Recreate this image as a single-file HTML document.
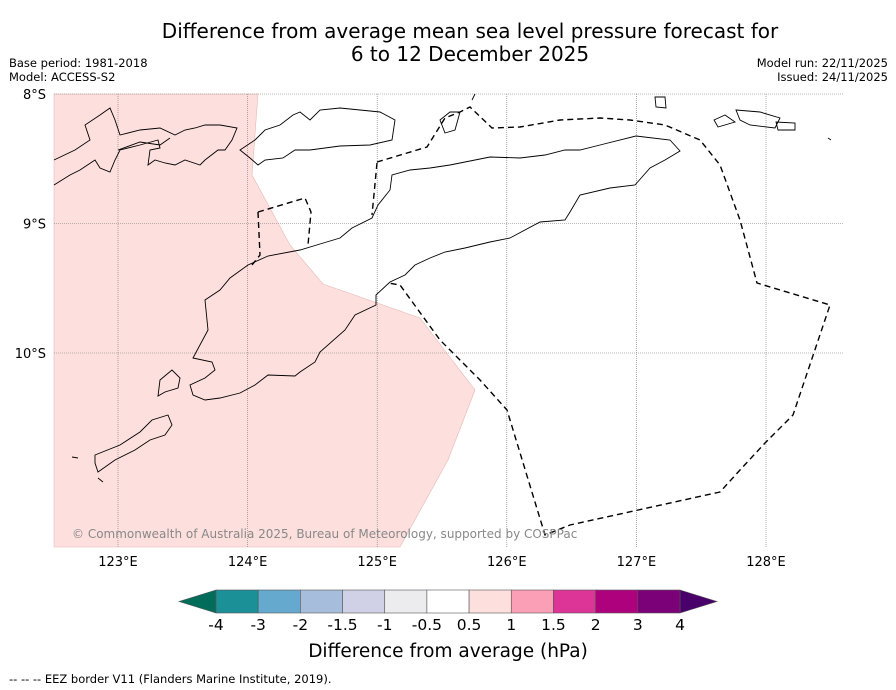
<!DOCTYPE html>
<html><head><meta charset="utf-8">
<style>
body{margin:0;background:#fff;font-family:"Liberation Sans","DejaVu Sans",sans-serif;}
#wrap{position:relative;width:896px;height:690px;overflow:hidden;}
.t{position:absolute;white-space:nowrap;color:#000;}
</style></head><body>
<div id="wrap">
<div class="t" style="left:0;width:940px;top:20px;text-align:center;font-size:20px;line-height:23px;font-family:'DejaVu Sans',sans-serif;">Difference from average mean sea level pressure forecast for<br>6 to 12 December 2025</div>
<div class="t" style="left:9px;top:56px;font-size:11.5px;line-height:14px;font-family:'DejaVu Sans',sans-serif;">Base period: 1981-2018<br>Model: ACCESS-S2</div>
<div class="t" style="right:8px;top:56px;font-size:11.5px;line-height:14px;text-align:right;font-family:'DejaVu Sans',sans-serif;">Model run: 22/11/2025<br>Issued: 24/11/2025</div>
<svg id="svg" width="896" height="690" style="position:absolute;left:0;top:0" font-family="DejaVu Sans, sans-serif">
<g>
<polygon points="54,94 258,94 252,175 290,245 323,284 420,318 475,390 448,460 400,547 54,547" fill="#fde0de" stroke="#e8b8b4" stroke-width="0.6"/>
<g id="grid" stroke="#777" stroke-width="0.6" stroke-dasharray="1,1"></g>
<g fill="none" stroke="#000" stroke-width="0.9">
<path d="M193,358 L208,330 L205,300 L220,290 L230,278 L248,265 L268,256 L300,250 L320,244 L340,238 L352,228 L372,218 L378,205 L390,190 L392,175 L410,170 L430,168 L450,165 L490,157 L520,158 L545,155 L565,150 L580,150 L600,145 L636,136 L670,140 L680,151 L665,160 L650,168 L635,185 L610,188 L580,195 L570,212 L565,220 L540,222 L510,238 L490,242 L465,248 L445,252 L430,258 L415,265 L405,275 L390,282 L376,295 L376,305 L355,315 L345,330 L320,352 L315,362 L300,372 L295,376 L268,375 L255,385 L240,393 L220,398 L205,400 L193,395 L190,385 L205,378 L215,370 L212,362 Z"/>
<path d="M160,380 L172,370 L180,378 L178,388 L165,392 L158,396 Z"/>
<path d="M72,457 L78,458 M95,455 L120,445 L140,432 L152,420 L168,415 L172,425 L165,435 L150,440 L135,450 L115,460 L98,472 L95,463 Z M98,478 L103,482"/>
<path d="M54,160 L75,150 L90,140 L85,125 L100,115 L110,108 L115,120 L120,135 L140,130 L160,128 L175,135 L185,130 L195,128 L205,125 L220,125 L237,128 L232,140 L225,150 L218,150 L205,160 L200,165 L185,160 L175,165 L165,163 L155,160 L148,165 L150,150 L160,148 L158,140 L140,145 L120,150 L115,160 L110,172 L100,168 L95,160 L80,170 L70,175 L54,185"/>
<path d="M118,150 L140,142 L160,145 L170,138"/>
<path d="M240,150 L255,140 L265,130 L280,125 L293,115 L300,112 L310,120 L320,110 L340,108 L380,112 L395,120 L392,140 L370,145 L340,146 L310,150 L295,150 L283,158 L265,160 L258,165 L250,158 Z"/>
<path d="M440,120 L450,112 L460,112 L455,130 L445,133 Z M472,100 L475,94 M655,97 L665,97 L666,108 L656,107 Z M714,120 L725,115 L735,122 L718,127 Z M736,110 L760,112 L780,118 L775,128 L750,125 L740,120 Z M776,122 L795,123 L795,130 L778,130 Z M828,138 L831,140"/>
</g>
<g fill="none" stroke="#000" stroke-width="1.4" stroke-dasharray="6,4">
<path d="M258,212 L305,198 L311,212 L308,245"/>
<path d="M258,212 L260,255 L252,265"/>
<path d="M377,163 L372,215"/>
<path d="M377,162 L427,147 L445,118 L460,112 L470,107 L492,128 L520,127 L560,120 L600,118 L630,120 L665,125 L700,140 L720,165 L740,220 L757,283 L830,305 L793,415 L765,443 L740,470 L720,492 L570,525 L545,535 L507,410 L480,380 L440,340 L400,285 L388,283"/>
</g>
<text x="72" y="538" font-size="12" fill="#888">© Commonwealth of Australia 2025, Bureau of Meteorology, supported by COSPPac</text>
<g id="axes" font-size="13"></g>
</g>
<g id="cbar"></g>
<text x="448" y="657" text-anchor="middle" font-size="18.5">Difference from average (hPa)</text>
<text x="9" y="683" font-size="11.5">--  --  -- EEZ border V11 (Flanders Marine Institute, 2019).</text>
</svg>
</div>
<script>
const lonTicks=[123,124,125,126,127,128];
const latTicks=[8,9,10];
const levelLabels=["-4","-3","-2","-1.5","-1","-0.5","0.5","1","1.5","2","3","4"];
const levelColors=["#1b9096","#66a9cf","#a6bddb","#d0d1e6","#ecebee","#ffffff","#fde0dd","#fa9fb5","#dd3497","#ae017e","#7a0177"];
const extendColors=["#016c59","#49006a"];
const NS="http://www.w3.org/2000/svg";
function mk(t,a,p){const e=document.createElementNS(NS,t);for(const k in a)e.setAttribute(k,a[k]);p.appendChild(e);return e;}
const xLon=l=>118+(l-123)*129.6;
const yLat=l=>94+(l-8)*129.5;
const grid=document.getElementById('grid'),axes=document.getElementById('axes');
lonTicks.forEach(l=>{
  const x=xLon(l);
  const g=mk('line',{x1:x,x2:x,y1:94,y2:547},grid);
  
  
  const t=mk('text',{x:x,y:566,'text-anchor':'middle'},axes);t.textContent=l+"°E";
  
  
});
latTicks.forEach(l=>{
  const y=yLat(l);
  const g=mk('line',{x1:54,x2:843,y1:y,y2:y},grid);
  
  
  const t=mk('text',{x:46,y:y+5,'text-anchor':'end'},axes);t.textContent=l+"°S";
  
  
});
const cb=document.getElementById('cbar');
const x0=216,x1=680,y0=590,y1=613,n=levelColors.length,w=(x1-x0)/n;
const a=mk('polygon',{points:`${x0},${y0} ${x0},${y1} 179,${(y0+y1)/2}`,fill:extendColors[0],stroke:'#555','stroke-width':0.6},cb);


const b=mk('polygon',{points:`${x1},${y0} ${x1},${y1} 717,${(y0+y1)/2}`,fill:extendColors[1],stroke:'#555','stroke-width':0.6},cb);


levelColors.forEach((c,i)=>{
  const r=mk('rect',{x:x0+i*w,y:y0,width:w,height:y1-y0,fill:c,stroke:'#555','stroke-width':0.6},cb);
  
  
});
levelLabels.forEach((s,i)=>{
  const t=mk('text',{x:x0+i*w,y:630,'text-anchor':'middle','font-size':15.5},cb);t.textContent=s;
  
  
});
</script>
</body></html>
